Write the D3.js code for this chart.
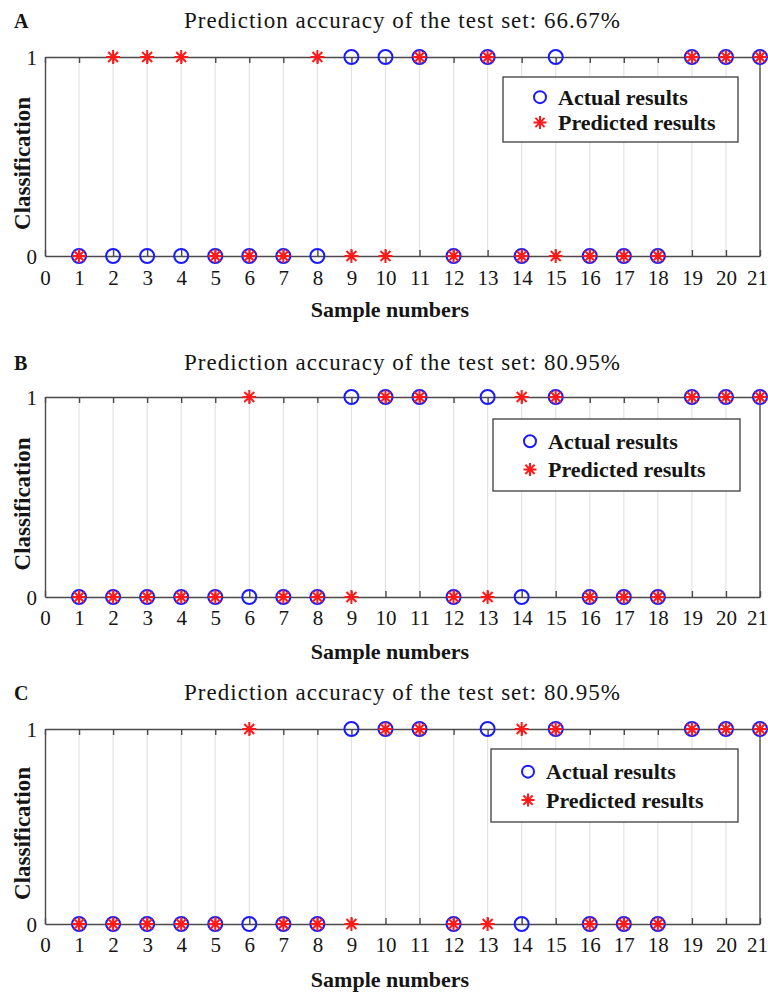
<!DOCTYPE html>
<html>
<head>
<meta charset="utf-8">
<script src="https://cdn.jsdelivr.net/npm/d3@7"></script>
<style>
  body { margin: 0; background: #fff; }
</style>
</head>
<body>
<div id="vis"></div>
<script>
// sample numbers on the x axis
var samples = [1, 2, 3, 4, 5, 6, 7, 8, 9, 10, 11, 12, 13, 14, 15, 16, 17, 18, 19, 20, 21];
var xTicks = [0, 1, 2, 3, 4, 5, 6, 7, 8, 9, 10, 11, 12, 13, 14, 15, 16, 17, 18, 19, 20, 21];
var yTicks = [0, 1];

// panel A
var actualA    = [0, 0, 0, 0, 0, 0, 0, 0, 1, 1, 1, 0, 1, 0, 1, 0, 0, 0, 1, 1, 1];
var predictedA = [0, 1, 1, 1, 0, 0, 0, 1, 0, 0, 1, 0, 1, 0, 0, 0, 0, 0, 1, 1, 1];
// panel B
var actualB    = [0, 0, 0, 0, 0, 0, 0, 0, 1, 1, 1, 0, 1, 0, 1, 0, 0, 0, 1, 1, 1];
var predictedB = [0, 0, 0, 0, 0, 1, 0, 0, 0, 1, 1, 0, 0, 1, 1, 0, 0, 0, 1, 1, 1];
// panel C
var actualC    = [0, 0, 0, 0, 0, 0, 0, 0, 1, 1, 1, 0, 1, 0, 1, 0, 0, 0, 1, 1, 1];
var predictedC = [0, 0, 0, 0, 0, 1, 0, 0, 0, 1, 1, 0, 0, 1, 1, 0, 0, 0, 1, 1, 1];

var panelLabels = ['A', 'B', 'C'];
var accuracies = ['66.67%', '80.95%', '80.95%'];
var legendLabels = ['Actual results', 'Predicted results'];

var width = 768;
var height = 994;

// layout for each panel (pixel positions only)
var layouts = [
    { top: 57,  bottom: 256, titleY: 28,  tickY: 285, xLabelY: 317, legend: { x: 503, y: 77,  w: 235, h: 65 } },
    { top: 397, bottom: 597, titleY: 370, tickY: 625, xLabelY: 659, legend: { x: 493, y: 419, w: 247, h: 72 } },
    { top: 729, bottom: 924, titleY: 700, tickY: 952, xLabelY: 987, legend: { x: 491, y: 749, w: 247, h: 73 } }
];
var panelData = [[actualA, predictedA], [actualB, predictedB], [actualC, predictedC]];

var left = 45, right = 760;
var axisColor = '#4a4a4a';
var blue = '#1a1aff', red = '#ff1a1a';
var serif = "'Liberation Serif', 'Times New Roman', serif";

var svg = d3.select('#vis').append('svg')
    .attr('width', width)
    .attr('height', height);

var xScale = d3.scaleLinear().domain([0, 21]).range([left, right]);

// asterisk marker, like the matlab '*'
function starPath(s) {
    var d = s * 0.7071;
    return `M${-s},0L${s},0M0,${-s}L0,${s}M${-d},${-d}L${d},${d}M${-d},${d}L${d},${-d}`;
}

// serif text helper
function styleText(sel, size, bold) {
    return sel.style('font-family', serif)
        .style('font-size', size + 'px')
        .style('font-weight', bold ? 'bold' : 'normal')
        .style('fill', '#151515');
}

layouts.forEach(function(lay, i) {
    var yScale = d3.scaleLinear().domain([0, 1]).range([lay.bottom, lay.top]);
    var g = svg.append('g');
    var actual = panelData[i][0];
    var predicted = panelData[i][1];

    // vertical grid lines
    g.selectAll('.grid').data(samples.slice(0, 20)).enter().append('line')
        .attr('x1', d => xScale(d)).attr('x2', d => xScale(d))
        .attr('y1', lay.top).attr('y2', lay.bottom)
        .attr('stroke', '#e3e3e3').attr('stroke-width', 1.2);

    // bottom axis
    var xAxis = d3.axisBottom(xScale).tickValues(xTicks).tickSizeInner(-6).tickSizeOuter(0).tickPadding(0);
    var gx = g.append('g').attr('transform', `translate(0,${lay.bottom})`).call(xAxis);
    styleText(gx.selectAll('text').attr('dy', null).attr('y', lay.tickY - lay.bottom), 21, false);
    // last label sits at the page edge, nudge it in a little
    gx.selectAll('text').filter(d => d === 21).attr('x', -3);

    // top axis, ticks only
    var topAxis = d3.axisTop(xScale).tickValues(xTicks).tickSizeInner(-6).tickSizeOuter(0).tickFormat('');
    g.append('g').attr('transform', `translate(0,${lay.top})`).call(topAxis);

    // left axis
    var yAxis = d3.axisLeft(yScale).tickValues(yTicks).tickFormat(d3.format('d'))
        .tickSizeInner(0).tickSizeOuter(0).tickPadding(8);
    var gy = g.append('g').attr('transform', `translate(${left},0)`).call(yAxis);
    styleText(gy.selectAll('text').attr('dy', '0.35em'), 21, false);

    // right border
    g.append('line')
        .attr('x1', xScale(21)).attr('x2', xScale(21))
        .attr('y1', lay.top).attr('y2', lay.bottom);

    g.selectAll('.domain, .tick line, line:not([stroke])')
        .attr('stroke', axisColor).attr('stroke-width', 1.4);

    // actual results (circles)
    g.selectAll('.actual').data(samples).enter().append('circle')
        .attr('cx', d => xScale(d))
        .attr('cy', (d, j) => yScale(actual[j]))
        .attr('r', 7)
        .attr('fill', 'none').attr('stroke', blue).attr('stroke-width', 2);

    // predicted results (stars)
    g.selectAll('.pred').data(samples).enter().append('path')
        .attr('transform', (d, j) => `translate(${xScale(d)},${yScale(predicted[j])})`)
        .attr('d', starPath(7))
        .attr('fill', 'none').attr('stroke', red).attr('stroke-width', 2);

    // titles and labels
    styleText(g.append('text').attr('x', 14).attr('y', lay.titleY), 20, true)
        .text(panelLabels[i]);

    styleText(g.append('text').attr('x', 402).attr('y', lay.titleY)
        .attr('text-anchor', 'middle').attr('textLength', 436).attr('lengthAdjust', 'spacing'), 23, false)
        .text('Prediction accuracy of the test set: ' + accuracies[i]);

    styleText(g.append('text').attr('x', 390).attr('y', lay.xLabelY)
        .attr('text-anchor', 'middle'), 22, true)
        .text('Sample numbers');

    styleText(g.append('text')
        .attr('transform', `translate(30,${(lay.top + lay.bottom) / 2 + 7}) rotate(-90)`)
        .attr('text-anchor', 'middle'), 23, true)
        .text('Classification');

    // legend
    var lg = lay.legend;
    var leg = g.append('g').attr('transform', `translate(${lg.x},${lg.y})`);
    leg.append('rect').attr('width', lg.w).attr('height', lg.h)
        .attr('fill', '#fff').attr('stroke', axisColor).attr('stroke-width', 1.4);
    var rowY = [lg.h * 0.31, lg.h * 0.70];
    leg.append('circle').attr('cx', 37).attr('cy', rowY[0]).attr('r', 6)
        .attr('fill', 'none').attr('stroke', blue).attr('stroke-width', 2);
    leg.append('path').attr('transform', `translate(37,${rowY[1]})`).attr('d', starPath(6.5))
        .attr('fill', 'none').attr('stroke', red).attr('stroke-width', 2);
    legendLabels.forEach(function(t, k) {
        styleText(leg.append('text').attr('x', 55).attr('y', rowY[k]).attr('dy', '0.35em'), 22, true)
            .text(t);
    });
});
</script>
</body>
</html>
